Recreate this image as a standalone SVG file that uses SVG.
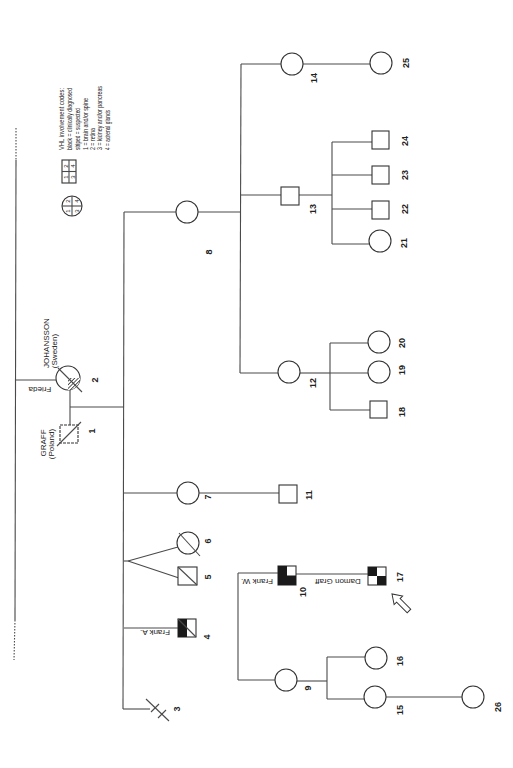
<svg xmlns="http://www.w3.org/2000/svg" width="513" height="768" viewBox="0 0 513 768">
<style>
.ln{stroke:#4a4a4a;stroke-width:1.1;fill:none}
.sym{stroke:#333;stroke-width:1.1;fill:#fff}
.blk{fill:#1a1a1a;stroke:none}
.n{font-family:"Liberation Sans",Arial,sans-serif;font-size:9px;font-weight:bold;fill:#222;text-anchor:middle}
.lab{font-family:"Liberation Sans",Arial,sans-serif;font-size:8px;fill:#222;text-anchor:middle}
.leg{font-family:"Liberation Sans",Arial,sans-serif;font-size:7px;fill:#222}
.dg{font-family:"Liberation Sans",Arial,sans-serif;font-size:6px;fill:#222;text-anchor:middle}
</style>
<defs>
<pattern id="hatch" width="2.6" height="2.6" patternUnits="userSpaceOnUse" patternTransform="rotate(45)">
<rect width="2.6" height="2.6" fill="#fff"/>
<line x1="0" y1="0" x2="0" y2="2.6" stroke="#111" stroke-width="1.4"/>
</pattern>
</defs>
<rect width="513" height="768" fill="#fff"/>

<g id="connectors">
<line class="ln" x1="16" y1="128" x2="16" y2="160" stroke-dasharray="1.5 1.5"/>
<line class="ln" x1="16" y1="160" x2="15" y2="620"/>
<line class="ln" x1="15" y1="620" x2="14" y2="660" stroke-dasharray="1.5 1.5"/>
<line class="ln" x1="16" y1="380" x2="56" y2="380"/>
<line class="ln" x1="70" y1="390" x2="70" y2="425"/>
<line class="ln" x1="70" y1="407" x2="124" y2="407"/>
<line class="ln" x1="124" y1="212" x2="123" y2="709"/>
<line class="ln" x1="124" y1="212" x2="176" y2="212"/>
<line class="ln" x1="198" y1="212" x2="240" y2="212"/>
<line class="ln" x1="124" y1="493" x2="177" y2="493"/>
<line class="ln" x1="199" y1="493" x2="279" y2="493"/>
<line class="ln" x1="124" y1="561" x2="128" y2="561"/>
<line class="ln" x1="128" y1="561" x2="178" y2="547"/>
<line class="ln" x1="128" y1="561" x2="179" y2="578"/>
<line class="ln" x1="124" y1="628" x2="178" y2="628"/>
<line class="ln" x1="123" y1="709" x2="150" y2="709"/>
<line class="ln" x1="241" y1="64" x2="240" y2="373"/>
<line class="ln" x1="241" y1="64" x2="281" y2="64"/>
<line class="ln" x1="303" y1="64" x2="370" y2="64"/>
<line class="ln" x1="240" y1="195" x2="281" y2="195"/>
<line class="ln" x1="299" y1="195" x2="332" y2="195"/>
<line class="ln" x1="332" y1="142" x2="332" y2="244"/>
<line class="ln" x1="332" y1="142" x2="372" y2="142"/>
<line class="ln" x1="332" y1="175" x2="372" y2="175"/>
<line class="ln" x1="332" y1="209" x2="372" y2="209"/>
<line class="ln" x1="332" y1="244" x2="369" y2="244"/>
<line class="ln" x1="240" y1="373" x2="278" y2="373"/>
<line class="ln" x1="300" y1="373" x2="330" y2="373"/>
<line class="ln" x1="330" y1="343" x2="330" y2="410"/>
<line class="ln" x1="330" y1="343" x2="368" y2="343"/>
<line class="ln" x1="330" y1="373" x2="368" y2="373"/>
<line class="ln" x1="330" y1="410" x2="370" y2="410"/>
<line class="ln" x1="238" y1="573" x2="238" y2="680"/>
<line class="ln" x1="238" y1="573" x2="278" y2="573"/>
<line class="ln" x1="238" y1="680" x2="275" y2="680"/>
<line class="ln" x1="296" y1="574" x2="368" y2="574"/>
<line class="ln" x1="297" y1="681" x2="327" y2="681"/>
<line class="ln" x1="327" y1="657" x2="327" y2="699"/>
<line class="ln" x1="327" y1="657" x2="365" y2="657"/>
<line class="ln" x1="327" y1="699" x2="364" y2="699"/>
<line class="ln" x1="386" y1="697" x2="462" y2="697"/>
</g>

<g id="legend">
<text class="leg" x="62" y="150" dy="0.35em" transform="rotate(-90 62 150)" textLength="62" lengthAdjust="spacingAndGlyphs">VHL involvement codes:</text>
<text class="leg" x="70" y="150" dy="0.35em" transform="rotate(-90 70 150)" textLength="62" lengthAdjust="spacingAndGlyphs">black = clinically diagnosed</text>
<text class="leg" x="78" y="150" dy="0.35em" transform="rotate(-90 78 150)" textLength="42" lengthAdjust="spacingAndGlyphs">striped = suspected</text>
<text class="leg" x="86" y="150" dy="0.35em" transform="rotate(-90 86 150)" textLength="52" lengthAdjust="spacingAndGlyphs">1 = brain and/or spine</text>
<text class="leg" x="93" y="150" dy="0.35em" transform="rotate(-90 93 150)" textLength="22" lengthAdjust="spacingAndGlyphs">2 = retina</text>
<text class="leg" x="100" y="150" dy="0.35em" transform="rotate(-90 100 150)" textLength="64" lengthAdjust="spacingAndGlyphs">3 = kidney and/or pancreas</text>
<text class="leg" x="108" y="150" dy="0.35em" transform="rotate(-90 108 150)" textLength="40" lengthAdjust="spacingAndGlyphs">4 = adrenal glands</text>
<rect class="sym" x="62" y="160" width="14" height="23"/>
<line class="ln" x1="69" y1="160" x2="69" y2="183"/>
<line class="ln" x1="62" y1="171.5" x2="76" y2="171.5"/>
<text class="dg" x="65.5" y="177" dy="0.35em" transform="rotate(-90 65.5 177)">1</text>
<text class="dg" x="65.5" y="166" dy="0.35em" transform="rotate(-90 65.5 166)">2</text>
<text class="dg" x="72.5" y="177" dy="0.35em" transform="rotate(-90 72.5 177)">3</text>
<text class="dg" x="72.5" y="166" dy="0.35em" transform="rotate(-90 72.5 166)">4</text>
<circle class="sym" cx="72" cy="206" r="10"/>
<line class="ln" x1="72" y1="196" x2="72" y2="216"/>
<line class="ln" x1="62" y1="206" x2="82" y2="206"/>
<text class="dg" x="67.5" y="211" dy="0.35em" transform="rotate(-90 67.5 211)">1</text>
<text class="dg" x="67.5" y="201" dy="0.35em" transform="rotate(-90 67.5 201)">2</text>
<text class="dg" x="76.5" y="211" dy="0.35em" transform="rotate(-90 76.5 211)">3</text>
<text class="dg" x="76.5" y="201" dy="0.35em" transform="rotate(-90 76.5 201)">4</text>
</g>

<g id="n1">
<rect class="sym" x="60" y="425" width="18" height="18" stroke-dasharray="3 1"/>
<line class="ln" x1="57" y1="446" x2="81" y2="422"/>
<text class="lab" x="43.5" y="443" dy="0.35em" transform="rotate(-90 43.5 443)">GRAFF</text>
<text class="lab" x="51" y="444" dy="0.35em" transform="rotate(-90 51 444)">(Poland)</text>
<text class="n" x="92" y="431" dy="0.35em" transform="rotate(-90 92 431)">1</text>
</g>
<g id="n2">
<circle class="sym" cx="68" cy="378" r="12"/>
<path d="M68,378 L80,378 A12,12 0 0 1 68,390 Z" fill="url(#hatch)" stroke="none"/>
<line class="ln" x1="58" y1="368" x2="82" y2="392"/>
<text class="lab" x="46" y="343" dy="0.35em" transform="rotate(-90 46 343)">JOHANSSON</text>
<text class="lab" x="54" y="351" dy="0.35em" transform="rotate(-90 54 351)">(Sweden)</text>
<text class="lab" x="40" y="390" dy="0.35em" transform="rotate(180 40 390)">Frieda</text>
<text class="n" x="95" y="380" dy="0.35em" transform="rotate(-90 95 380)">2</text>
</g>
<g id="n3">
<line class="ln" x1="146" y1="699" x2="169" y2="721"/>
<line class="ln" x1="151" y1="712" x2="159" y2="704"/>
<line class="ln" x1="158" y1="718" x2="166" y2="710"/>
<text class="n" x="177" y="709" dy="0.35em" transform="rotate(-90 177 709)">3</text>
</g>
<g id="n4">
<rect class="sym" x="178" y="619" width="18" height="18"/>
<rect class="blk" x="178" y="619" width="9" height="18"/>
<line class="ln" x1="178" y1="619" x2="196" y2="637"/>
<text class="lab" x="155" y="633" dy="0.35em" transform="rotate(180 155 633)">Frank A.</text>
<text class="n" x="207" y="637" dy="0.35em" transform="rotate(-90 207 637)">4</text>
</g>
<g id="n5">
<rect class="sym" x="178" y="567" width="19" height="18"/>
<line class="ln" x1="178" y1="567" x2="197" y2="585"/>
<text class="n" x="208" y="577" dy="0.35em" transform="rotate(-90 208 577)">5</text>
</g>
<g id="n6">
<circle class="sym" cx="188" cy="543" r="11"/>
<line class="ln" x1="179" y1="533" x2="200" y2="556"/>
<text class="n" x="208" y="541" dy="0.35em" transform="rotate(-90 208 541)">6</text>
</g>
<g id="n7">
<circle class="sym" cx="188" cy="493" r="11"/>
<text class="n" x="208" y="497" dy="0.35em" transform="rotate(-90 208 497)">7</text>
</g>
<g id="n8">
<circle class="sym" cx="187" cy="212" r="11"/>
<text class="n" x="209" y="252" dy="0.35em" transform="rotate(-90 209 252)">8</text>
</g>
<g id="n9">
<circle class="sym" cx="286" cy="680" r="11"/>
<text class="n" x="308" y="688" dy="0.35em" transform="rotate(-90 308 688)">9</text>
</g>
<g id="n10">
<rect class="sym" x="278" y="566" width="18" height="19"/>
<rect class="blk" x="278" y="566" width="9" height="19"/>
<rect class="blk" x="287" y="575.5" width="9" height="9.5"/>
<text class="lab" x="257" y="582" dy="0.35em" transform="rotate(180 257 582)">Frank W.</text>
<text class="n" x="303" y="592" dy="0.35em" transform="rotate(-90 303 592)">10</text>
</g>
<g id="n11">
<rect class="sym" x="279" y="485" width="18" height="18"/>
<text class="n" x="309" y="495" dy="0.35em" transform="rotate(-90 309 495)">11</text>
</g>
<g id="n12">
<circle class="sym" cx="289" cy="372" r="11"/>
<text class="n" x="313" y="383" dy="0.35em" transform="rotate(-90 313 383)">12</text>
</g>
<g id="n13">
<rect class="sym" x="281" y="187" width="18" height="18"/>
<text class="n" x="313" y="209" dy="0.35em" transform="rotate(-90 313 209)">13</text>
</g>
<g id="n14">
<circle class="sym" cx="292" cy="64" r="11"/>
<text class="n" x="314" y="78" dy="0.35em" transform="rotate(-90 314 78)">14</text>
</g>
<g id="n15">
<circle class="sym" cx="375" cy="697" r="11"/>
<text class="n" x="400" y="710" dy="0.35em" transform="rotate(-90 400 710)">15</text>
</g>
<g id="n16">
<circle class="sym" cx="376" cy="658" r="11"/>
<text class="n" x="400" y="661" dy="0.35em" transform="rotate(-90 400 661)">16</text>
</g>
<g id="n17">
<rect class="sym" x="368" y="567" width="18" height="18"/>
<rect class="blk" x="368" y="567" width="9" height="9"/>
<rect class="blk" x="377" y="576" width="9" height="9"/>
<text class="lab" x="338" y="582" dy="0.35em" transform="rotate(180 338 582)">Damon Graff</text>
<polygon points="0,0 -9,-6 -9,-2.5 -24,-2.5 -24,2.5 -9,2.5 -9,6" fill="#fff" stroke="#333" stroke-width="1" transform="translate(392 594) rotate(-135)"/>
<text class="n" x="400" y="577" dy="0.35em" transform="rotate(-90 400 577)">17</text>
</g>
<g id="n18">
<rect class="sym" x="370" y="401" width="17" height="17"/>
<text class="n" x="402" y="412" dy="0.35em" transform="rotate(-90 402 412)">18</text>
</g>
<g id="n19">
<circle class="sym" cx="379" cy="372" r="11"/>
<text class="n" x="402" y="370" dy="0.35em" transform="rotate(-90 402 370)">19</text>
</g>
<g id="n20">
<circle class="sym" cx="379" cy="342" r="11"/>
<text class="n" x="402" y="343" dy="0.35em" transform="rotate(-90 402 343)">20</text>
</g>
<g id="n21">
<circle class="sym" cx="380" cy="241" r="11"/>
<text class="n" x="404" y="243" dy="0.35em" transform="rotate(-90 404 243)">21</text>
</g>
<g id="n22">
<rect class="sym" x="372" y="201" width="17" height="18"/>
<text class="n" x="405" y="209" dy="0.35em" transform="rotate(-90 405 209)">22</text>
</g>
<g id="n23">
<rect class="sym" x="372" y="166" width="17" height="18"/>
<text class="n" x="405" y="175" dy="0.35em" transform="rotate(-90 405 175)">23</text>
</g>
<g id="n24">
<rect class="sym" x="372" y="131" width="17" height="18"/>
<text class="n" x="405" y="141" dy="0.35em" transform="rotate(-90 405 141)">24</text>
</g>
<g id="n25">
<circle class="sym" cx="381" cy="63" r="11"/>
<text class="n" x="406" y="63" dy="0.35em" transform="rotate(-90 406 63)">25</text>
</g>
<g id="n26">
<circle class="sym" cx="473" cy="697" r="11"/>
<text class="n" x="498" y="707" dy="0.35em" transform="rotate(-90 498 707)">26</text>
</g>
</svg>
